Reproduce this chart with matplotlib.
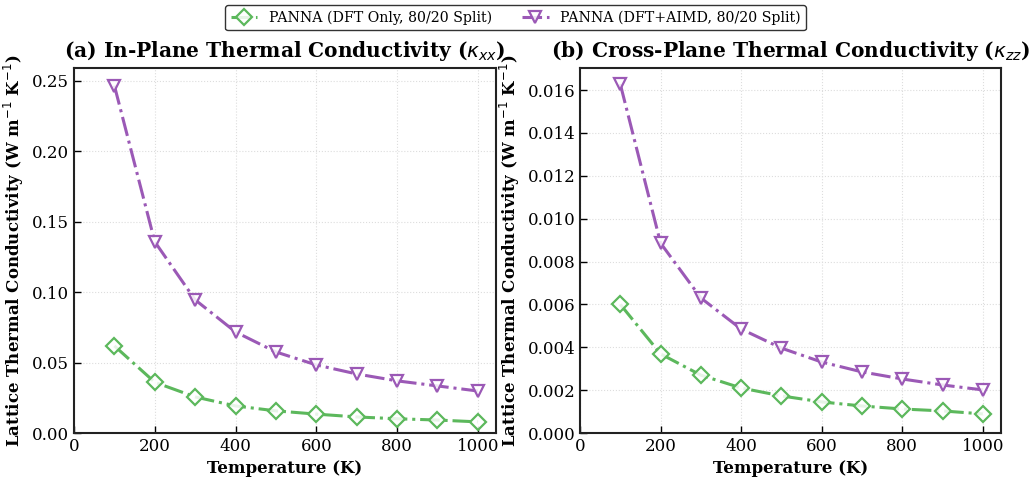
import matplotlib
matplotlib.use("Agg")
import matplotlib.pyplot as plt

temps = [100, 200, 300, 400, 500, 600, 700, 800, 900, 1000]
kxx_dft = [0.0618, 0.0360, 0.0256, 0.0192, 0.0157, 0.0134, 0.0114, 0.0101, 0.0092, 0.0079]
kxx_aimd = [0.2465, 0.1357, 0.0945, 0.0717, 0.0575, 0.0483, 0.0419, 0.0370, 0.0334, 0.0298]
kzz_dft = [0.00600, 0.00369, 0.00270, 0.00210, 0.00173, 0.00145, 0.00126, 0.00112, 0.00103, 0.00089]
kzz_aimd = [0.01628, 0.00886, 0.00630, 0.00485, 0.00396, 0.00331, 0.00285, 0.00252, 0.00224, 0.00201]
label_dft = "PANNA (DFT Only, 80/20 Split)"
label_aimd = "PANNA (DFT+AIMD, 80/20 Split)"
titles = [r"(a) In-Plane Thermal Conductivity ($\kappa_{xx}$)",
          r"(b) Cross-Plane Thermal Conductivity ($\kappa_{zz}$)"]

plt.rcParams['font.family'] = 'DejaVu Serif'
plt.rcParams['mathtext.fontset'] = 'dejavusans'

green = '#5cb85c'
purple = '#9b59b6'

fig = plt.figure(figsize=(10.31, 4.78), dpi=100)
W, H = 1031, 478
ax1 = fig.add_axes([74/W, 1-433/H, (496-74)/W, (433-68)/H])
ax2 = fig.add_axes([580/W, 1-433/H, (1001-580)/W, (433-68)/H])

for ax, d, a, ylim, title in [(ax1, kxx_dft, kxx_aimd, 0.259, titles[0]),
                              (ax2, kzz_dft, kzz_aimd, 0.01703, titles[1])]:
    l1, = ax.plot(temps, d, linestyle='-.', color=green, lw=2.2, marker='D', ms=8,
                  mfc=(1, 1, 1, 0.85), mec=green, mew=1.6, label=label_dft)
    l2, = ax.plot(temps, a, linestyle='-.', color=purple, lw=2.2, marker='v', ms=9,
                  mfc=(1, 1, 1, 0.85), mec=purple, mew=1.6, label=label_aimd)
    ax.set_xlim(0, 1045)
    ax.set_ylim(0, ylim)
    ax.set_title(title, fontsize=14.5, fontweight='bold', pad=8)
    ax.set_xlabel('Temperature (K)', fontsize=12, fontweight='bold')
    ax.set_ylabel(r'Lattice Thermal Conductivity (W m$^{-1}$ K$^{-1}$)', fontsize=12, fontweight='bold')
    ax.tick_params(direction='in', labelsize=12, length=5, width=1)
    ax.grid(True, linestyle=':', color='#dddddd', lw=0.8)
    for s in ax.spines.values():
        s.set_linewidth(1.5)
        s.set_color('#222222')

ax1.set_yticks([0, 0.05, 0.10, 0.15, 0.20, 0.25])
ax1.set_yticklabels(['0.00', '0.05', '0.10', '0.15', '0.20', '0.25'])
ax2.set_yticks([0, 0.002, 0.004, 0.006, 0.008, 0.010, 0.012, 0.014, 0.016])
ax2.set_yticklabels(['0.000', '0.002', '0.004', '0.006', '0.008', '0.010', '0.012', '0.014', '0.016'])

fig.legend(handles=[l1, l2], loc='upper center', bbox_to_anchor=(0.5, 1.005), ncol=2,
           fontsize=10.2, frameon=True, edgecolor='black', fancybox=True,
           handlelength=1.9, columnspacing=2.1, borderpad=0.4)

fig.savefig('out.png', dpi=100)
